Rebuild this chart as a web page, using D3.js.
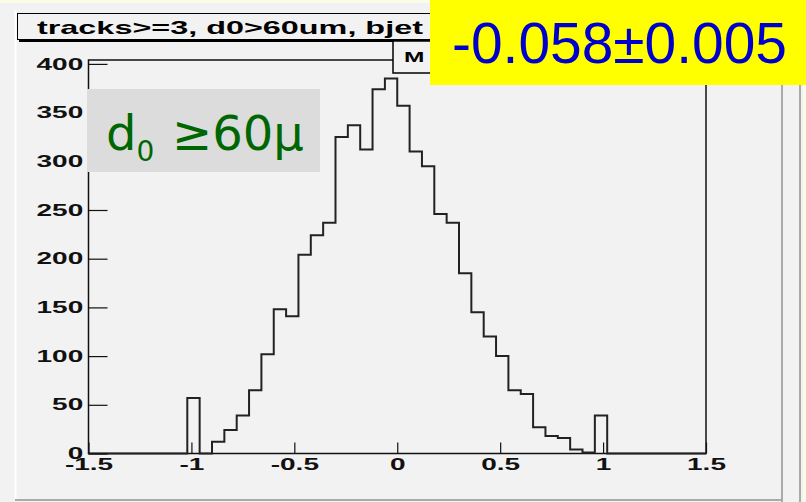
<!DOCTYPE html>
<html>
<head>
<meta charset="utf-8">
<script src="https://cdn.jsdelivr.net/npm/d3@7"></script>
<style>
  body { margin: 0; background: #f2f2f2; }
  svg { display: block; }
</style>
</head>
<body>
<div id="chart"></div>
<script>
// histogram: 50 bins from -1.5 to 1.5
var xMin = -1.5, xMax = 1.5, nBins = 50;
var counts = [0, 0, 0, 0, 0, 0, 0, 0, 57, 0,
              12, 24, 39, 65, 102, 148, 141, 204, 224, 237,
              325, 337, 312, 374, 385, 357, 310, 295, 246, 237,
              185, 145, 120, 100, 65, 61, 27, 18, 16, 4,
              1, 39, 0, 0, 0, 0, 0, 0, 0, 0];
var xTicks = [-1.5, -1, -0.5, 0, 0.5, 1, 1.5];
var yTicks = [0, 50, 100, 150, 200, 250, 300, 350, 400];
var yMax = 404;
var title = "tracks>=3, d0>60um, bjet";
var fitValue = "-0.058\u00b10.005";

var width = 806, height = 502;
var sx = 1.75; // root canvas was stretched sideways

var svg = d3.select("#chart")
    .append("svg")
    .attr("width", width)
    .attr("height", height);

// page background and edges
svg.append("rect").attr("width", width).attr("height", height).attr("fill", "#f2f2f2");
svg.append("rect").attr("width", width).attr("height", 3).attr("fill", "#fbfbe6");
svg.append("rect").attr("x", 803).attr("width", 3).attr("height", height).attr("fill", "#fbfbe6");
svg.append("line").attr("x1", 15.5).attr("x2", 15.5).attr("y1", 10).attr("y2", 500)
    .attr("stroke", "#fff").attr("stroke-width", 2);
svg.append("line").attr("x1", 15).attr("x2", 782).attr("y1", 500).attr("y2", 500)
    .attr("stroke", "#aaa").attr("stroke-width", 2);
[782, 800].forEach(function(xx) {
    svg.append("line").attr("x1", xx).attr("x2", xx).attr("y1", 0).attr("y2", height)
        .attr("stroke", "#aaa").attr("stroke-width", 2);
});

var x = d3.scaleLinear().domain([xMin, xMax]).range([88.5, 706]);
var y = d3.scaleLinear().domain([0, yMax]).range([453.5, 60]);

// title box with shadow
svg.append("rect").attr("x", 19).attr("y", 15).attr("width", 430).attr("height", 27).attr("fill", "#000");
svg.append("rect").attr("x", 17.5).attr("y", 13.5).attr("width", 430).attr("height", 26)
    .attr("fill", "#f2f2f2").attr("stroke", "#000").attr("stroke-width", 1);
svg.append("text")
    .attr("transform", "translate(37,34) scale(" + sx + ",1)")
    .attr("font-family", "Liberation Sans, Arial, sans-serif")
    .attr("font-weight", "bold")
    .attr("font-size", 18.5)
    .text(title);

// frame
svg.append("rect")
    .attr("x", x(xMin)).attr("y", y(yMax))
    .attr("width", x(xMax) - x(xMin)).attr("height", y(0) - y(yMax))
    .attr("fill", "none").attr("stroke", "#111").attr("stroke-width", 1.5);

// stats box (mostly hidden under the yellow box)
svg.append("rect").attr("x", 393).attr("y", 41).attr("width", 120).attr("height", 32)
    .attr("fill", "#f2f2f2").attr("stroke", "#000").attr("stroke-width", 1.5);
svg.append("text")
    .attr("transform", "translate(404,62) scale(" + sx + ",1)")
    .attr("font-family", "Liberation Sans, Arial, sans-serif")
    .attr("font-weight", "bold")
    .attr("font-size", 14)
    .text("M");

// histogram outline
var binW = (xMax - xMin) / nBins;
var pts = [[xMin, 0]];
counts.forEach(function(c, i) {
    pts.push([xMin + i * binW, c]);
    pts.push([xMin + (i + 1) * binW, c]);
});
pts.push([xMax, 0]);

var line = d3.line()
    .x(function(d) { return x(d[0]); })
    .y(function(d) { return y(d[1]); });

svg.append("path")
    .attr("d", line(pts))
    .attr("fill", "none")
    .attr("stroke", "#222")
    .attr("stroke-width", 2);

// axes
var minorX = d3.range(-15, 16).map(function(d) { return d / 10; });
var minorY = d3.range(0, 41).map(function(d) { return d * 10; });

var gx = svg.append("g").attr("transform", "translate(0," + y(0) + ")");
gx.call(d3.axisBottom(x).tickValues(minorX).tickSize(-5.5).tickFormat(""));
gx.call(d3.axisBottom(x).tickValues(xTicks).tickSize(-11).tickPadding(5)
    .tickFormat(function(d) { return d3.format("")(d); }));

var gy = svg.append("g").attr("transform", "translate(" + x(xMin) + ",0)");
gy.call(d3.axisLeft(y).tickValues(minorY).tickSize(-9.5).tickFormat(""));
gy.call(d3.axisLeft(y).tickValues(yTicks).tickSize(-19).tickPadding(3));

svg.selectAll(".domain").remove();
svg.selectAll(".tick line").attr("stroke", "#111").attr("stroke-width", 1.2);
svg.selectAll(".tick text")
    .attr("fill", "#111")
    .attr("font-family", "Liberation Sans, Arial, sans-serif")
    .attr("font-weight", "bold")
    .attr("font-size", 16)
    .attr("transform", "scale(" + sx + ",1)")
    .text(function() { return this.textContent.replace("\u2212", "-"); });
gy.selectAll(".tick text").attr("x", -3);

// annotation: d0 >= 60 mu
svg.append("rect").attr("x", 87).attr("y", 89).attr("width", 233).attr("height", 83)
    .attr("fill", "#dcdcdc");
var lab = svg.append("text")
    .attr("x", 106).attr("y", 150)
    .attr("fill", "#006600")
    .attr("font-family", "DejaVu Sans, sans-serif")
    .attr("font-size", 48);
lab.append("tspan").text("d");
lab.append("tspan").attr("font-size", 28).attr("dy", 11).text("0");
lab.append("tspan").attr("x", 172).attr("dy", -11).text("\u226560\u03bc");

// fit result box
svg.append("rect").attr("x", 430).attr("y", 0).attr("width", 376).attr("height", 85)
    .attr("fill", "#ffff00");
svg.append("text")
    .attr("x", 452).attr("y", 63)
    .attr("fill", "#0000cc")
    .attr("font-family", "Liberation Sans, Arial, sans-serif")
    .attr("font-size", 57)
    .attr("textLength", 335)
    .attr("lengthAdjust", "spacingAndGlyphs")
    .text(fitValue);
</script>
</body>
</html>
